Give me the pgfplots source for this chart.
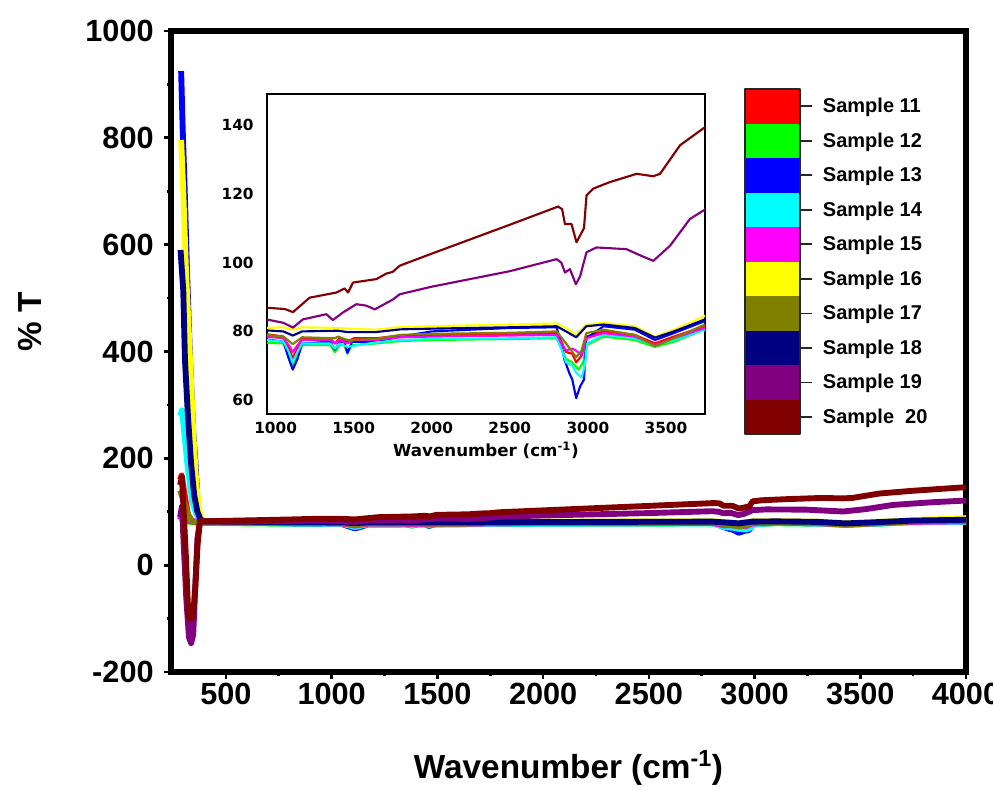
\documentclass[border=0pt]{standalone}
\usepackage{pgfplots}
\pgfplotsset{compat=1.18}
\usepackage{pgfplotstable}
\usepackage{fontspec}
\setmainfont{Liberation Sans}
\newfontfamily\insetfont{DejaVu Sans}

\definecolor{cR}{RGB}{255,0,0}
\definecolor{cG}{RGB}{0,255,0}
\definecolor{cB}{RGB}{0,0,255}
\definecolor{cC}{RGB}{0,255,255}
\definecolor{cM}{RGB}{255,0,255}
\definecolor{cY}{RGB}{255,255,0}
\definecolor{cO}{RGB}{128,128,0}
\definecolor{cN}{RGB}{0,0,128}
\definecolor{cP}{RGB}{128,0,128}
\definecolor{cD}{RGB}{128,0,0}

\pgfplotstableread{
x y
283 160
290 168
305 130
320 95
340 82
400 80
600 79.5
800 79.3
940 79.2
1050 78.5
1085 75
1110 72.3
1140 75
1170 78
1350 78
1380 76.5
1410 78
1460 77
1500 78
1640 78
1800 78.8
2000 79
2500 79.2
2800 79.5
2830 77
2860 74
2900 73.5
2925 71
2960 73
2990 78.5
3100 80
3300 79
3430 76.5
3550 78.5
3750 81.5
4000 82
}\tRed
\pgfplotstableread{
x y
283 80
300 82
320 82
340 80
400 79
800 77.5
940 76.7
1050 76.5
1085 73
1110 69.9
1140 73
1170 76
1350 76
1380 74
1410 76
1440 76
1460 73.5
1490 76
1640 76.5
1800 77.2
2000 77.5
2500 77.8
2800 78
2830 75
2860 72
2900 71
2940 68.9
2970 71
2990 76
3100 78.5
3300 77.5
3430 75.5
3550 77
3750 80.6
4000 80.5
}\tGreen
\pgfplotstableread{
x y
288 925
295 820
305 700
315 560
330 385
345 250
355 197
368 103
385 85
400 82
800 78.5
940 77.7
1050 77
1085 72
1110 68.9
1140 72
1170 76.5
1350 77
1380 74.7
1410 77
1440 77
1460 73.8
1490 77
1640 77
1800 78.5
2000 80
2500 81
2800 81.2
2830 76
2850 71.8
2880 68
2900 66
2925 60.6
2950 64
2975 66
2990 78
3100 81.5
3300 80.5
3430 77.5
3550 79.5
3750 83
4000 84
}\tBlue
\pgfplotstableread{
x y
283 280
292 290
305 240
320 180
340 120
360 95
380 84
400 81
800 78
940 77.5
1050 77
1085 74
1110 71
1140 74
1170 76.5
1350 76.5
1380 75
1410 76.5
1460 75.5
1640 76.8
1800 77.5
2000 77.8
2500 78
2800 78.3
2830 75
2860 71
2900 70
2925 68
2960 66.6
2980 70
2995 76.5
3100 79
3300 78
3430 76
3550 77.5
3750 80.5
4000 81
}\tCyan
\pgfplotstableread{
x y
283 85
290 95
300 90
320 83
400 80
800 78.8
940 78.5
1050 78
1085 76
1110 74
1140 76
1170 77.5
1350 77.5
1380 76.5
1410 77.5
1460 76.5
1500 77.5
1640 77.5
1800 78.3
2000 78.5
2500 78.8
2800 79
2830 76.5
2860 74.5
2900 75
2925 74.4
2960 73
2990 78
3100 79.5
3300 78.5
3430 76
3550 78
3750 81
4000 82
}\tMag
\pgfplotstableread{
x y
288 796
298 700
310 560
330 385
345 250
360 150
375 100
390 84
400 83
800 81.2
940 81
1050 81.2
1110 80.5
1170 81.2
1400 81
1460 80.8
1640 80.5
1800 81.3
2000 81.5
2500 82
2800 82.3
2860 81
2925 79
2990 82
3100 82.5
3300 81.5
3430 78.5
3550 80.5
3750 84.5
4000 88
}\tYel
\pgfplotstableread{
x y
283 140
300 120
320 95
340 81
400 80
800 79.3
940 79
1050 78.5
1110 76.3
1170 78.3
1380 78
1400 78.5
1460 77.5
1640 77.8
1800 79
2000 79.3
2500 79.6
2800 80
2860 76.5
2925 72.5
2960 74.5
2990 79.5
3100 80.5
3300 79
3430 75.7
3550 78
3750 82
4000 83
}\tOli
\pgfplotstableread{
x y
285 590
298 515
306 385
320 280
335 190
350 130
365 100
380 85
400 82
800 80.5
940 80.3
1050 80
1110 78.8
1170 80
1400 80.2
1460 79.8
1640 79.8
1800 80.6
2000 80.8
2500 81.2
2800 81.5
2860 80
2925 78.3
2990 81.5
3100 82
3300 81
3430 78.2
3550 80
3750 83.5
4000 85
}\tNavy
\pgfplotstableread{
x y
283 90
292 110
300 40
312 -60
325 -135
335 -146
345 -130
355 -40
365 50
377 82
500 81.5
800 82.7
940 83.5
1050 82.5
1111 81.1
1175 83.5
1325 85
1367 83.3
1431 85.5
1517 87.9
1580 87.5
1635 86.4
1752 89.3
1795 90.8
2000 93
2500 97.5
2799 101
2830 100
2853 97.1
2885 98.1
2923 93.7
2950 96
2991 103
3055 104.4
3247 103.9
3340 102
3419 100.5
3526 104.9
3654 112.7
3739 115.1
3850 118
4000 121
}\tPur
\pgfplotstableread{
x y
283 150
292 165
300 100
310 20
322 -95
333 -100
345 -95
355 -40
366 40
377 82
500 83
800 85.5
940 86.9
1060 86.5
1111 85.6
1218 89.8
1389 91.3
1442 92.5
1464 91.3
1496 94.2
1645 95.2
1709 96.8
1750 97.3
1795 99.1
2000 102.6
2500 111
2810 116.3
2835 115.5
2853 111.2
2895 111.2
2927 105.9
2949 107.8
2975 110
2991 119.5
3034 121.5
3141 123.4
3312 125.8
3419 125.1
3462 125.8
3590 134.1
3739 139
3850 142
4000 146
}\tDred

\pgfplotsset{
  legbox/.style={legend image code/.code={
    \fill[##1,draw=none] (0pt,-12.94pt) rectangle (41.25pt,12.94pt);
    \draw[overlay,black!85,line width=1.2pt] (41.25pt,0pt) -- (50.25pt,0pt);
    \draw[overlay,black!85,line width=0.9pt] (0pt,-12.94pt) -- (0pt,12.94pt) (41.25pt,-12.94pt) -- (41.25pt,12.94pt);
  }},
  legtop/.style={legend image code/.code={
    \fill[##1,draw=none] (0pt,-12.94pt) rectangle (41.25pt,12.94pt);
    \draw[overlay,black!85,line width=1.2pt] (41.25pt,0pt) -- (50.25pt,0pt);
    \draw[overlay,black!85,line width=0.9pt,line cap=rect] (0pt,-12.94pt) -- (0pt,12.94pt) -- (41.25pt,12.94pt) -- (41.25pt,-12.94pt);
  }},
  legbot/.style={legend image code/.code={
    \fill[##1,draw=none] (0pt,-12.94pt) rectangle (41.25pt,12.94pt);
    \draw[overlay,black!85,line width=1.2pt] (41.25pt,0pt) -- (50.25pt,0pt);
    \draw[overlay,black!85,line width=0.9pt,line cap=rect] (0pt,12.94pt) -- (0pt,-12.94pt) -- (41.25pt,-12.94pt) -- (41.25pt,12.94pt);
  }},
}

\begin{document}
\begin{tikzpicture}
\useasboundingbox (0,0) rectangle (744.75pt,592.5pt);
\begin{axis}[
  at={(128.25pt,88.5pt)}, anchor=south west,
  width=596.25pt, height=480.75pt, scale only axis,
  xmin=240, xmax=4000, ymin=-200, ymax=1000,
  xtick={500,1000,...,4000}, ytick={-200,0,...,1000},
  minor x tick num=1, minor y tick num=1,
  xtick pos=left, ytick pos=left,
  tick align=outside,
  major tick length=5pt, minor tick length=3pt,
  every tick/.style={black, line width=2pt},
  axis line style={line width=4pt},
  /pgf/number format/assume math mode=true,
  /pgf/number format/1000 sep={},
  ticklabel style={font=\fontsize{23}{27}\selectfont\bfseries},
  yticklabel style={xshift=-4.5pt},
  every axis x label/.style={at={(rel axis cs:0.5,0)}, anchor=center, yshift=-72pt},
  every axis y label/.style={at={(rel axis cs:0,0.546)}, xshift=-105.75pt, rotate=90, anchor=center},
  xlabel={Wavenumber (cm\textsuperscript{-1})},
  ylabel={\% T},
  label style={font=\fontsize{25}{30}\selectfont\bfseries},
  legend cell align=left,
  legend style={at={(rel axis cs:0.722,0.9095)}, anchor=north west,
    draw=none, fill=none, inner sep=0pt, outer sep=0pt,
    row sep=0pt, column sep=17.25pt,
    nodes={inner sep=0pt},
    font=\fontsize{15}{18}\selectfont\bfseries},
  every axis plot/.append style={line width=4.4pt, line join=round},
]
\addplot[cR, legtop] table {\tRed}; \addlegendentry{Sample 11}
\addplot[cG, legbox] table {\tGreen}; \addlegendentry{Sample 12}
\addplot[cB, legbox] table {\tBlue}; \addlegendentry{Sample 13}
\addplot[cC, legbox] table {\tCyan}; \addlegendentry{Sample 14}
\addplot[cM, legbox] table {\tMag}; \addlegendentry{Sample 15}
\addplot[cY, legbox] table {\tYel}; \addlegendentry{Sample 16}
\addplot[cO, legbox] table {\tOli}; \addlegendentry{Sample 17}
\addplot[cN, legbox] table {\tNavy}; \addlegendentry{Sample 18}
\addplot[cP, legbox] table {\tPur}; \addlegendentry{Sample 19}
\addplot[cD, legbot] table {\tDred}; \addlegendentry{Sample\ \ 20}
\end{axis}

\begin{axis}[
  at={(200.25pt,282pt)}, anchor=south west,
  width=328.5pt, height=240pt, scale only axis,
  xmin=945, xmax=3750, ymin=56, ymax=149,
  xtick={1000,1500,...,3500}, ytick={60,80,...,140},
  major tick length=0pt, minor tick length=0pt,
  axis line style={line width=1.8pt},
  axis background/.style={fill=white},
  /pgf/number format/assume math mode=true,
  /pgf/number format/1000 sep={},
  ticklabel style={font=\insetfont\fontsize{11.5}{13}\selectfont\bfseries},
  xticklabel style={yshift=-2.5pt},
  yticklabel style={xshift=-6.5pt},
  every axis x label/.style={at={(rel axis cs:0.5,0)}, anchor=center, yshift=-27pt},
  xlabel={Wavenumber (cm\textsuperscript{-1})},
  label style={font=\insetfont\fontsize{12.5}{14}\selectfont\bfseries},
  every axis plot/.append style={line width=1.6pt, line join=round},
]
\addplot[cR] table {\tRed};
\addplot[cG] table {\tGreen};
\addplot[cB] table {\tBlue};
\addplot[cC] table {\tCyan};
\addplot[cM] table {\tMag};
\addplot[cY] table {\tYel};
\addplot[cO] table {\tOli};
\addplot[cN] table {\tNavy};
\addplot[cP] table {\tPur};
\addplot[cD] table {\tDred};
\end{axis}
\end{tikzpicture}
\end{document}
